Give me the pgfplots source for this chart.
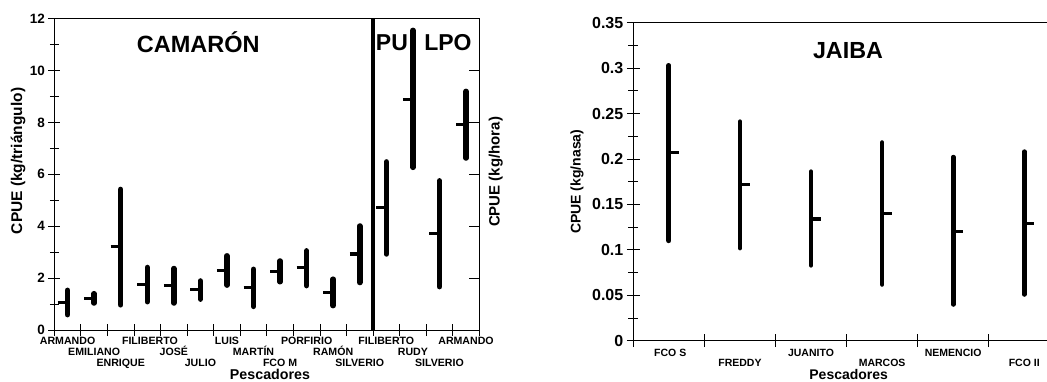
\documentclass[border=0pt]{standalone}
\usepackage{fontspec}
\setmainfont{Liberation Sans}
\usepackage{pgfplots}
\usepackage{pgfplotstable}
\pgfplotsset{compat=1.18}

\pgfdeclareplotmark{meanL}{\pgfsetlinewidth{3.2pt}\pgfsetbuttcap
  \pgfpathmoveto{\pgfqpoint{-10pt}{0pt}}\pgfpathlineto{\pgfqpoint{0.5pt}{0pt}}\pgfusepathqstroke}
\pgfdeclareplotmark{meanR}{\pgfsetlinewidth{3.2pt}\pgfsetbuttcap
  \pgfpathmoveto{\pgfqpoint{-0.5pt}{0pt}}\pgfpathlineto{\pgfqpoint{10pt}{0pt}}\pgfusepathqstroke}

\newcommand{\fs}[1]{\fontsize{#1}{#1}\selectfont\bfseries}

\pgfplotstableread{
x lo mean hi
0.5 0.59 1.07 1.53
1.5 1.04 1.22 1.40
2.5 0.97 3.21 5.42
3.5 1.09 1.76 2.41
4.5 1.04 1.71 2.37
5.5 1.19 1.55 1.89
6.5 1.73 2.30 2.86
7.5 0.91 1.63 2.34
8.5 1.86 2.27 2.66
9.5 1.71 2.40 3.05
10.5 0.94 1.45 1.96
11.5 1.83 2.93 4.01
}\camaron

\pgfplotstableread{
x lo mean hi
12.5 2.93 4.72 6.48
13.5 6.27 8.90 11.55
14.5 1.67 3.73 5.75
15.5 6.63 7.93 9.20
}\pulpo

\pgfplotstableread{
x lo mean hi
0.5 0.110 0.207 0.303
1.5 0.102 0.172 0.241
2.5 0.083 0.134 0.186
3.5 0.062 0.140 0.218
4.5 0.040 0.120 0.202
5.5 0.051 0.129 0.208
}\jaiba

\begin{document}
\begin{tikzpicture}
\useasboundingbox (0,0) rectangle (1047pt,381pt);
% ---------------- CAMARON / PULPO ----------------
\begin{axis}[
  at={(54.3pt,51pt)}, anchor=south west, scale only axis,
  width=425pt, height=311.3pt,
  xmin=0, xmax=16, ymin=0, ymax=12,
  xtick={0,...,16}, xticklabels={},
  ytick={0,2,...,12}, minor ytick={1,3,...,11},
  ytick pos=left, xtick pos=bottom,
  tick align=center, major tick length=12pt, minor tick length=9pt,
  every tick/.style={black, line width=0.8pt},
  axis line style={line width=0.8pt},
  /pgf/number format/assume math mode=true,
  yticklabel style={font=\fs{13.5}},
  ylabel={CPUE (kg/triángulo)},
  every axis y label/.style={at={(rel axis cs:-0.0854,0.543)},rotate=90,anchor=center,font=\fs{15.5}},
  clip=false,
]
\addplot[black, only marks, mark=meanL,
  error bars/.cd, y dir=both, y explicit, error mark=none,
  error bar style={line width=5.5pt, line cap=round}]
  table[x=x, y=mean, y error plus expr=\thisrow{hi}-\thisrow{mean}, y error minus expr=\thisrow{mean}-\thisrow{lo}] {\camaron};
\addplot[black, only marks, mark=meanL,
  error bars/.cd, y dir=both, y explicit, error mark=none,
  error bar style={line width=5.5pt, line cap=round}]
  table[x=x, y=mean, y error plus expr=\thisrow{hi}-\thisrow{mean}, y error minus expr=\thisrow{mean}-\thisrow{lo}] {\pulpo};
\addplot[black, line width=4pt] coordinates {(12,0) (12,12)};

\node[font=\fs{23.5}] at (axis cs:5.42,11.09) {CAMARÓN};
\node[font=\fs{23}] at (axis cs:12.71,11.09) {PU};
\node[font=\fs{23}] at (axis cs:14.82,11.09) {LPO};

\node[font=\fs{10.6}, anchor=base, yshift=-14.3pt] at (axis cs:0.5,0) {ARMANDO};
\node[font=\fs{10.6}, anchor=base, yshift=-25.7pt] at (axis cs:1.5,0) {EMILIANO};
\node[font=\fs{10.6}, anchor=base, yshift=-36pt] at (axis cs:2.5,0) {ENRIQUE};
\node[font=\fs{10.6}, anchor=base, yshift=-14.3pt] at (axis cs:3.6,0) {FILIBERTO};
\node[font=\fs{10.6}, anchor=base, yshift=-25.7pt] at (axis cs:4.5,0) {JOSÉ};
\node[font=\fs{10.6}, anchor=base, yshift=-36pt] at (axis cs:5.5,0) {JULIO};
\node[font=\fs{10.6}, anchor=base, yshift=-14.3pt] at (axis cs:6.5,0) {LUIS};
\node[font=\fs{10.6}, anchor=base, yshift=-25.7pt] at (axis cs:7.5,0) {MARTÍN};
\node[font=\fs{10.6}, anchor=base, yshift=-36pt] at (axis cs:8.5,0) {FCO M};
\node[font=\fs{10.6}, anchor=base, yshift=-14.3pt] at (axis cs:9.5,0) {PORFIRIO};
\node[font=\fs{10.6}, anchor=base, yshift=-25.7pt] at (axis cs:10.5,0) {RAMÓN};
\node[font=\fs{10.6}, anchor=base, yshift=-36pt] at (axis cs:11.5,0) {SILVERIO};
\node[font=\fs{10.6}, anchor=base, yshift=-14.3pt] at (axis cs:12.5,0) {FILIBERTO};
\node[font=\fs{10.6}, anchor=base, yshift=-25.7pt] at (axis cs:13.5,0) {RUDY};
\node[font=\fs{10.6}, anchor=base, yshift=-36pt] at (axis cs:14.5,0) {SILVERIO};
\node[font=\fs{10.6}, anchor=base, yshift=-14.3pt] at (axis cs:15.5,0) {ARMANDO};
\node[font=\fs{14.25}, anchor=base, yshift=-49.3pt] at (axis cs:8.12,0) {Pescadores};
\end{axis}
% right-hand ticks and label
\begin{axis}[
  at={(54.3pt,51pt)}, anchor=south west, scale only axis,
  width=425pt, height=311.3pt,
  xmin=0, xmax=16, ymin=0, ymax=12,
  axis y line*=right, axis x line=none,
  ytick={2,4,...,10}, yticklabels={},
  tick align=inside, major tick length=10pt,
  every tick/.style={black, line width=0.8pt},
  axis line style={line width=0.8pt},
  ylabel={CPUE (kg/hora)},
  every axis y label/.style={at={(rel axis cs:1.039,0.508)},rotate=90,anchor=center,font=\fs{15}},
]
\end{axis}
% ---------------- JAIBA ----------------
\begin{axis}[
  at={(633.3pt,40.3pt)}, anchor=south west, scale only axis,
  width=413.7pt, height=318pt,
  xmin=0, xmax=5.82, ymin=0, ymax=0.35,
  axis lines*=left,
  xtick={0,...,5}, xticklabels={},
  ytick={0,0.05,0.1,0.15,0.2,0.25,0.3,0.35},
  yticklabels={0,0.05,0.1,0.15,0.2,0.25,0.3,0.35},
  minor ytick={0.025,0.075,0.125,0.175,0.225,0.275,0.325},
  scaled y ticks=false,
  tick align=center, major tick length=13pt, minor tick length=10pt,
  every tick/.style={black, line width=0.8pt},
  axis line style={line width=0.8pt},
  yticklabel style={font=\fs{16}},
  ylabel={CPUE (kg/nasa)},
  every axis y label/.style={at={(rel axis cs:-0.136,0.5)},rotate=90,anchor=center,font=\fs{14}},
  clip=false,
]
\addplot[black, only marks, mark=meanR,
  error bars/.cd, y dir=both, y explicit, error mark=none,
  error bar style={line width=4.8pt, line cap=round}]
  table[x=x, y=mean, y error plus expr=\thisrow{hi}-\thisrow{mean}, y error minus expr=\thisrow{mean}-\thisrow{lo}] {\jaiba};
\draw[line width=0.8pt] (rel axis cs:0,1) -- (rel axis cs:1,1);

\node[font=\fs{23.3}] at (axis cs:3.02,0.319) {JAIBA};
\node[font=\fs{10.5}, anchor=base, yshift=-15.3pt] at (axis cs:0.52,0) {FCO S};
\node[font=\fs{10.5}, anchor=base, yshift=-26pt] at (axis cs:1.5,0) {FREDDY};
\node[font=\fs{10.5}, anchor=base, yshift=-15.3pt] at (axis cs:2.5,0) {JUANITO};
\node[font=\fs{10.5}, anchor=base, yshift=-26pt] at (axis cs:3.5,0) {MARCOS};
\node[font=\fs{10.5}, anchor=base, yshift=-15.3pt] at (axis cs:4.5,0) {NEMENCIO};
\node[font=\fs{10.5}, anchor=base, yshift=-26pt] at (axis cs:5.5,0) {FCO II};
\node[font=\fs{14}, anchor=base, yshift=-38.6pt] at (axis cs:3.03,0) {Pescadores};
\end{axis}
\end{tikzpicture}
\end{document}
